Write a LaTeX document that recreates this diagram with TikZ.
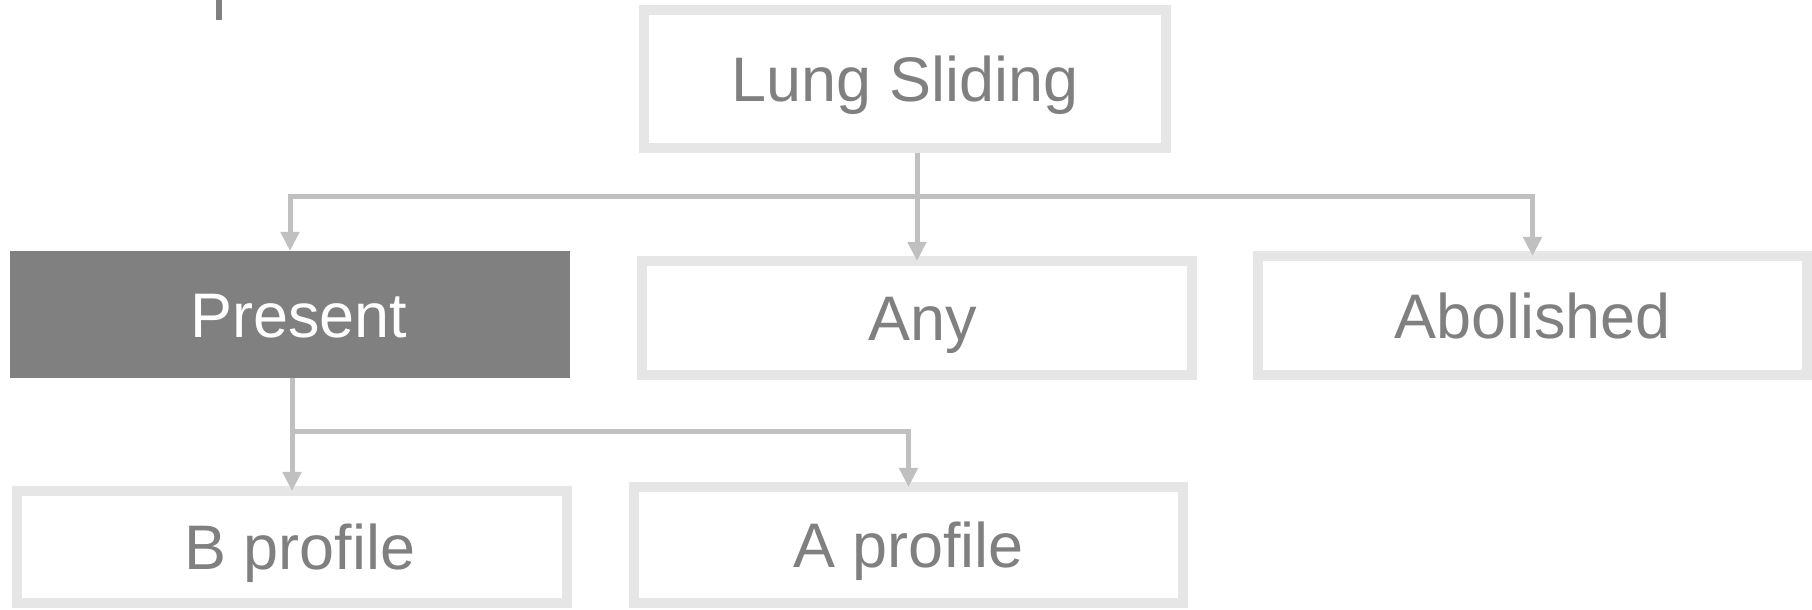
\documentclass[tikz,border=0pt]{standalone}
\usepackage{fontspec}
\setmainfont{Liberation Sans}
\usetikzlibrary{arrows.meta}
\definecolor{boxline}{HTML}{E6E6E6}
\definecolor{linkgray}{HTML}{C0C0C0}
\definecolor{textgray}{HTML}{808080}

\begin{document}
\begin{tikzpicture}[x=.01cm,y=-.01cm,>={Triangle[width=.18cm,length=.19cm]},
  font=\fontsize{17.9}{21}\selectfont,
  box/.style={draw=boxline,line width=.1cm,fill=white,text=textgray,
    outer sep=0pt,inner sep=0pt,text height=.45cm,text depth=0pt},
  chosen/.style={fill=textgray,text=white,
    outer sep=0pt,inner sep=0pt,text height=.45cm,text depth=0pt},
  link/.style={draw=linkgray,line width=.05cm}]
  \useasboundingbox (0,0) rectangle (1812,609);
  \draw[textgray,line width=.06cm] (219,0) -- (219,20);
  \node[box,minimum width=5.22cm,minimum height=1.38cm] (ls) at (905,79) {Lung Sliding};
  \node[chosen,minimum width=5.60cm,minimum height=1.27cm] (present) at (290,314.5) {\hspace{.18cm}Present};
  \node[box,minimum width=5.50cm,minimum height=1.14cm] (any) at (917,318) {\hspace{.12cm}Any};
  \node[box,minimum width=5.49cm,minimum height=1.19cm] (abolished) at (1532.5,315.5) {Abolished};
  \node[box,minimum width=5.49cm,minimum height=1.12cm] (bprofile) at (292,547) {\hspace{.16cm}B profile};
  \node[box,minimum width=5.49cm,minimum height=1.16cm] (aprofile) at (908.5,545) {A profile};
  \coordinate (fork) at (917,196.5);
  \coordinate (fork2) at (292,431);
  \draw[link,->,shorten <=.05cm] (ls.south -| any) -- (any);
  \draw[link,->] (fork) -| (present);
  \draw[link,->] (fork) -| (abolished);
  \draw[link,->] (present.south -| bprofile) -- (bprofile);
  \draw[link,->] (fork2) -| (aprofile);
\end{tikzpicture}
\end{document}
